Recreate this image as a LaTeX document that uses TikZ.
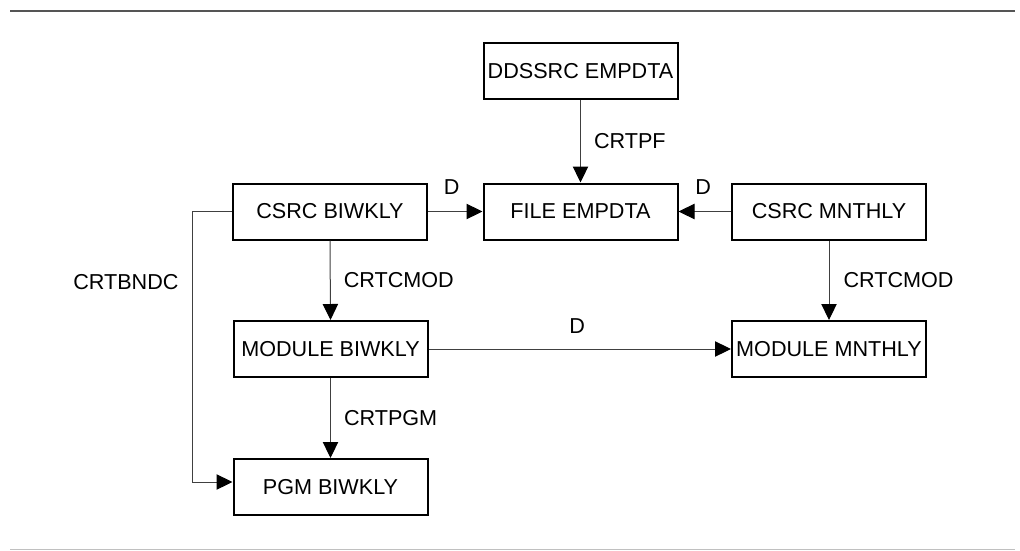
\documentclass[tikz,border=0pt]{standalone}
\usepackage{fontspec}
\setmainfont{Liberation Sans}
\usetikzlibrary{arrows.meta}
\definecolor{rulegray}{HTML}{555555}
\definecolor{lightrule}{HTML}{C0C0C0}
\begin{document}
\begin{tikzpicture}[x=0.75pt,y=-0.75pt,
  every node/.style={font=\fontsize{16.2pt}{19pt}\selectfont, inner sep=0pt},
  box/.style={draw=black, line width=1.5pt, minimum width=145.5pt, minimum height=42pt, fill=white},
  arr/.style={draw=black!75, line width=0.75pt, -{Triangle[length=12pt,width=11.5pt,color=black]}},
  lblr/.style={anchor=west, xshift=9.75pt},
  lbla/.style={anchor=center, yshift=18pt}
]
\useasboundingbox (0,0) rectangle (1020,550);
\draw[rulegray, line width=1.5pt] (10,11) -- (1015,11);
\draw[lightrule, line width=0.75pt] (10,549) -- (1015,549);

\node[box] (dd)   at (580.5,71)  {DDSSRC EMPDTA};
\node[box] (file) at (580.5,211.5) {FILE EMPDTA};
\node[box] (cb)   at (330,211.5) {CSRC BIWKLY};
\node[box] (cm)   at (829,211.5) {CSRC MNTHLY};
\node[box] (mb)   at (330.5,349) {MODULE BIWKLY};
\node[box] (mm)   at (829,349)   {MODULE MNTHLY};
\node[box] (pgm)  at (330.5,487) {PGM BIWKLY};

\draw[arr] (dd.south) -- node[lblr] {CRTPF} (file.north);
\draw[arr] (cb.east) -- node[lbla, xshift=-2.6pt] {D} (file.west);
\draw[arr] (cm.west) -- node[lbla, xshift=-1.1pt] {D} (file.east);
\draw[arr] (cb.south) -- node[lblr] {CRTCMOD} (mb.north);
\draw[arr] (cm.south) -- node[lblr, xshift=0.75pt] {CRTCMOD} (mm.north);
\draw[arr] (mb.east) -- node[lbla, xshift=-2pt, yshift=-1pt] {D} (mm.west);
\draw[arr] (mb.south) -- node[lblr] {CRTPGM} (pgm.north);
\draw[arr] (cb.west) -- ++(-40,0) |- node[pos=0.131, anchor=east, xshift=-9.75pt] {CRTBNDC} ([yshift=3.75pt]pgm.west);
\end{tikzpicture}
\end{document}
